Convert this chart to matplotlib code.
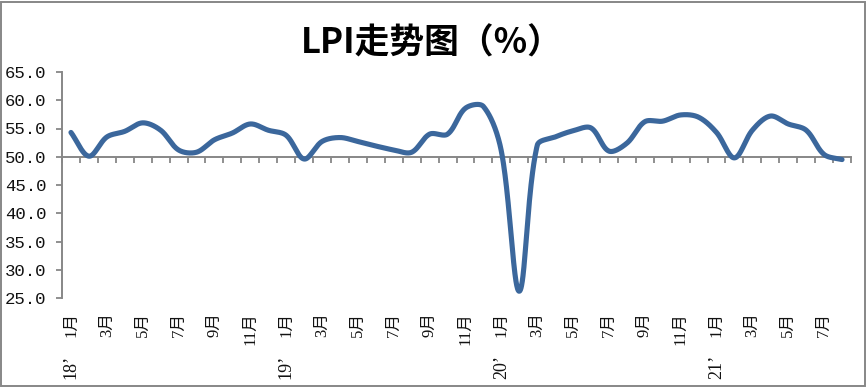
import numpy as np
import matplotlib
matplotlib.use('Agg')
import matplotlib.pyplot as plt
import matplotlib.transforms as mtrans
from matplotlib.patches import Rectangle

# ---------------- data ----------------
title = 'LPI走势图（%）'
lpi = [54.3, 50.1, 53.5, 54.5, 56.0, 54.7, 51.2, 50.8, 53.0, 54.2, 55.8, 54.7,
       53.8, 49.6, 52.7, 53.4, 52.7, 51.9, 51.2, 50.8, 54.0, 54.0, 58.6, 58.9,
       51.0, 26.2, 52.0, 53.5, 54.6, 55.1, 51.0, 52.4, 56.2, 56.3, 57.4, 57.0,
       54.3, 49.8, 54.7, 57.2, 55.8, 54.7, 50.4, 49.5]
month_labels = ['1月', '3月', '5月', '7月', '9月', '11月'] * 3 + ['1月', '3月', '5月', '7月']
year_labels = ['18’', '', '', '', '', '', '19’', '', '', '', '', '',
               '20’', '', '', '', '', '', '21’', '', '', '']
yticks = [25, 30, 35, 40, 45, 50, 55, 60, 65]

W, H = 867, 387
gray = '#878787'
line_color = '#3B679C'

fig = plt.figure(figsize=(W / 100, H / 100), dpi=100)
ax_left, ax_right, ax_top, ax_bottom = 62, 851, 72, 298
ax = fig.add_axes([ax_left / W, (H - ax_bottom) / H, (ax_right - ax_left) / W, (ax_bottom - ax_top) / H])

n = len(lpi)
x = np.arange(n, dtype=float)
y = np.array(lpi, dtype=float)
ax.set_xlim(-0.5, n - 0.5)
ax.set_ylim(25, 65)

# Excel-like smoothed line: Bezier through the points, control arms scaled by
# neighbouring segment lengths (measured in screen space)
sx = (ax_right - ax_left) / n
sy = (ax_bottom - ax_top) / 40.0
P = np.column_stack([x, y])
S = np.column_stack([x * sx, y * sy])

t = np.linspace(0, 1, 60)[:, None]
segs = []
for i in range(n - 1):
    i0 = max(i - 1, 0)
    i3 = min(i + 2, n - 1)
    p0, p1, p2, p3 = P[i0], P[i], P[i + 1], P[i3]
    d01 = np.linalg.norm(S[i] - S[i0])
    d12 = np.linalg.norm(S[i + 1] - S[i])
    d23 = np.linalg.norm(S[i3] - S[i + 1])
    f1 = d12 / (d01 + d12) if d01 + d12 > 0 else 0.5
    f2 = d12 / (d12 + d23) if d12 + d23 > 0 else 0.5
    c1 = p1 + (p2 - p0) * f1 / 3.0
    c2 = p2 - (p3 - p1) * f2 / 3.0
    b = ((1 - t) ** 3) * p1 + 3 * ((1 - t) ** 2) * t * c1 + 3 * (1 - t) * t ** 2 * c2 + t ** 3 * p2
    segs.append(b if i == 0 else b[1:])
curve = np.vstack(segs)
ax.plot(curve[:, 0], curve[:, 1], color=line_color, lw=3.7, solid_capstyle='round',
        solid_joinstyle='round', zorder=3)

for s in ['top', 'right']:
    ax.spines[s].set_visible(False)
ax.spines['left'].set_color(gray)
ax.spines['left'].set_linewidth(1.4)
ax.spines['bottom'].set_position(('data', 50))
ax.spines['bottom'].set_color(gray)
ax.spines['bottom'].set_linewidth(1.4)
ax.spines['bottom'].set_zorder(2)

ax.set_yticks(yticks)
ax.set_yticklabels([f'{v:.1f}' for v in yticks], fontfamily='Liberation Mono', fontsize=12.5)
ax.tick_params(axis='y', direction='out', length=4.3, width=1.3, color=gray, pad=7, labelcolor='#111111')

ax.set_xticks([])
ax.set_xticks(np.arange(-0.5, n, 1.0), minor=True)
ax.tick_params(axis='x', which='minor', direction='out', length=4, width=1.3, color=gray)

trans = mtrans.blended_transform_factory(ax.transData, fig.transFigure)
fam = ['Liberation Serif', 'Noto Sans CJK SC']
for j, (m, yr) in enumerate(zip(month_labels, year_labels)):
    cx = 2 * j
    ax.text(cx, 1 - 312 / H, m, transform=trans, rotation=90, ha='center', va='top',
            fontsize=12, family=fam, color='#111111')
    if yr:
        ax.text(cx, 1 - 355 / H, yr, transform=trans, rotation=90, ha='center', va='top',
                fontsize=13, family=fam, color='#111111')

fig.text(432 / W, 1 - 43 / H, title, ha='center', va='center', fontsize=25,
         fontweight='bold', family=['Noto Sans CJK SC', 'DejaVu Sans'], color='black')

fig.patches.append(Rectangle((0.5 / W, 1.5 / H), (W - 2.5) / W, (H - 3) / H,
                             transform=fig.transFigure, fill=False, edgecolor=gray, lw=1.4))

fig.savefig('out.png', dpi=100)
